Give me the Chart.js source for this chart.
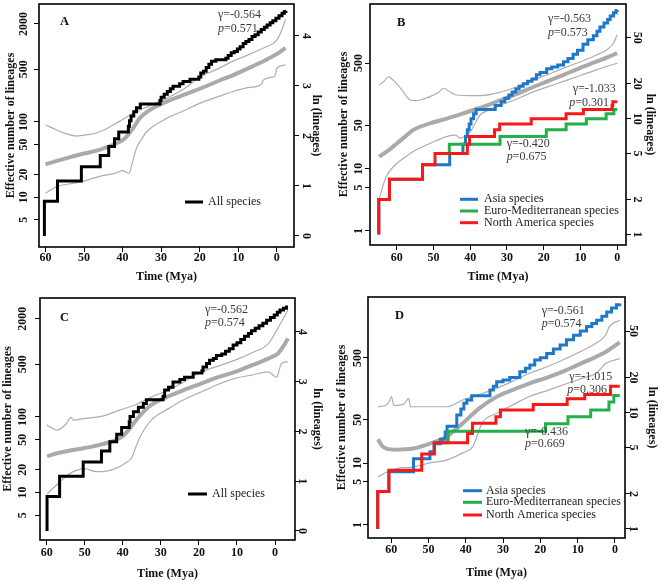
<!DOCTYPE html>
<html><head><meta charset="utf-8">
<script src="https://cdn.jsdelivr.net/npm/chart.js@4/dist/chart.umd.min.js"></script>
<style>
html,body{margin:0;padding:0;background:#fff;}
#wrap{position:relative;width:660px;height:582px;background:#fff;}
canvas{position:absolute;}
</style></head><body>
<div id="wrap">
<canvas id="cA" width="330" height="290" style="left:0;top:0"></canvas>
<canvas id="cB" width="330" height="290" style="left:330px;top:0"></canvas>
<canvas id="cC" width="330" height="292" style="left:0;top:290px"></canvas>
<canvas id="cD" width="330" height="292" style="left:330px;top:290px"></canvas>
</div>
<script>
// ---------- tick labels ----------
const timeTicks = [60, 50, 40, 30, 20, 10, 0];
const lnTicks = [0, 1, 2, 3, 4];                 // right axis of A and C: ln(lineages)
const lineageTicks = [1, 2, 5, 10, 20, 50];       // right axis of B and D
const effTicksAC = [5, 10, 20, 50, 100, 500, 2000];
const effTicksBD = [1, 5, 10, 50, 500];

// ---------- panel A : [time (Mya), lineages] ----------
const A_all = [[60.3,1],[60.3,2],[56.9,3],[50.7,4],[45.8,5],[43.6,6],[42.1,7],[41.0,8],[38.5,9],[38.2,10],[37.8,11],[37.1,12],[36.4,13],[35.4,14],[30.3,15],[30.0,16],[29.2,17],[28.4,18],[27.6,19],[26.9,20],[25.2,21],[24.3,22],[22.5,23],[20.2,24],[19.7,26],[19.0,27],[18.3,29],[17.6,31],[16.9,33],[15.8,34],[13.2,35],[12.6,37],[11.8,39],[11.0,40],[10.2,42],[9.5,44],[8.7,47],[8.0,49],[7.2,51],[6.4,54],[5.6,56],[4.8,59],[4.0,62],[3.2,65],[2.5,68],[1.7,71],[1.0,74],[0.2,78],[-0.6,82],[-1.4,86],[-2.0,89],[-2.4,90]];
const A_mean = [[60,4.2],[55,4.7],[50,5.2],[46,5.6],[42,6.3],[39.5,7.0],[37.3,8.6],[35.6,10.5],[33,12.4],[28.6,14.7],[24,16.9],[20,19],[15,22.3],[11.3,25],[7,29],[2.7,34],[0,38],[-2.3,43]];
const A_upper = [[60,9.2],[58,8.6],[55,7.8],[52,7.4],[49,7.6],[46,8],[41,9.8],[37.3,11.6],[33,13.5],[28.6,15.7],[24,19],[20,24],[15.6,28],[11.3,33],[7,38],[2.7,44],[0,50],[-1.2,60],[-2.3,76]];
const A_lower = [[60,2.35],[57,2.7],[54.6,2.8],[50,3.0],[46,3.3],[42,3.5],[40,3.7],[38.3,3.5],[37.5,4.3],[36.4,5.8],[35,7],[33.8,8],[28.6,10.5],[24,12.3],[20,14.2],[15,16.3],[11.3,18],[7,19.5],[3.8,21],[3.5,22.6],[1,24],[0.3,25],[0,28.5],[-2.3,30.6]];

// ---------- panel C ----------
const C_all = [[59.9,1],[59.9,2],[56.6,3],[50.4,4],[45.6,5],[43.4,6],[41.6,7],[40.3,8],[38.3,9],[38.1,10],[37.2,11],[35.9,12],[34.6,13],[33.8,14],[29.4,15],[29.0,17],[28.0,18],[26.8,20],[25.0,21],[23.8,22],[21.5,24],[19.2,25],[18.9,27],[18.0,29],[17.2,31],[16.2,32],[15.4,34],[14.0,35],[13.0,37],[12.0,39],[11.0,42],[10.0,44],[9.0,47],[8.0,50],[7.0,53],[6.2,56],[5.2,59],[4.2,62],[3.2,65],[2.2,69],[1.2,73],[0.2,77],[-0.6,81],[-1.3,85],[-2.2,88],[-3.0,90],[-3.4,90]];
const C_mean = [[59.9,4.5],[57,4.8],[54.4,5],[50,5.3],[45.6,5.7],[40.4,6.6],[38.5,7.6],[36.8,9],[34.5,11],[32.5,12.6],[28,15],[24,17],[19.3,19.4],[15,22],[10.5,24.5],[6,28],[1.8,32],[-0.8,35.5],[-2,40],[-3.4,48]];
const C_upper = [[59.9,8.4],[58.5,7.9],[57.3,7.6],[55,8.5],[53.6,9.8],[53,9.3],[50,9.6],[45.6,10],[41,11.3],[36.8,12.6],[32,15],[28,17],[24,20],[19.3,24.5],[15,27.5],[10.5,31],[6,36],[1.8,43],[-0.5,57],[-3.4,85]];
const C_lower = [[59.9,2.1],[57,2.6],[54.4,3.1],[52,3.4],[50,3.5],[47,3.3],[45.6,3.3],[42,3.5],[39.4,3.9],[37.6,4.4],[36.5,5.5],[35,7.1],[32.5,9.3],[28,11.7],[24,14],[19.3,16.4],[15,19],[10.5,21.5],[6,23],[1.8,24.5],[-0.4,22],[-1.7,29],[-3.4,30]];

// ---------- panel B ----------
const B_asia = [[64.9,1],[64.9,2],[62,3],[53,4],[45.6,5],[42.0,6],[41.3,7],[40.8,8],[40.3,9],[39.8,10],[39.1,11],[38.4,12],[33.2,13],[31.6,14],[30.6,15],[29.5,16],[28.6,17],[27.6,18],[26.7,19],[25.6,20],[24.4,21],[23.2,22],[22.0,24],[21.0,25],[19.2,27],[17.8,28],[16.2,29],[14.6,31],[13.4,33],[12.0,36],[10.8,39],[9.3,44],[8.0,48],[6.5,52],[5.5,57],[4.7,62],[3.6,67],[2.6,72],[1.9,77],[1.0,82],[0.3,86],[0,87]];
const B_euro = [[49.6,5],[45.7,5],[45.7,6],[31.9,7],[19.3,8],[13.9,9],[8.4,10],[3.0,11],[0.9,12],[0,12]];
const B_namer = [[64.9,1],[64.9,2],[62.0,3],[53.0,4],[49.6,5],[40.8,6],[40.2,7],[33.4,8],[32.0,9],[23.4,10],[13.9,11],[9.2,12],[1.4,13],[1.2,14],[0,14]];
const B_mean = [[64.8,4.7],[62,5.4],[60,6.1],[57.5,7.1],[55.5,8],[51,9.1],[46,10.1],[41.9,11.1],[37,12.5],[32.8,14],[28,16],[23.7,18.3],[19,21],[14.6,23.9],[10,27.5],[5.5,31.2],[2.5,34],[0,36.8]];
const B_upper = [[64.8,19.5],[63.5,21],[62.3,23],[61,21.5],[60,20],[58.6,17.7],[57.5,15.8],[56.4,14.5],[55,14.3],[53.6,14.5],[51,15.5],[48.5,17],[47.3,18.3],[45.5,17],[43.7,16],[40,15.8],[37.3,15.8],[32.8,16.6],[28,18.5],[23.7,21],[19,24],[14.6,27.3],[10,31],[5.5,35.6],[2.5,40],[1,45],[0,53]];
const B_lower = [[64.8,2.0],[63.5,2.8],[62.3,3.4],[60,4.1],[57.5,4.7],[55.5,5.2],[51,6.1],[46.5,7],[44,7.2],[42.8,6.8],[41.5,7.0],[40,7.7],[38.5,9.3],[37.3,10.8],[35,11.8],[32.8,12.7],[28,14.5],[23.7,16.6],[19,18.8],[14.6,21],[10,23.6],[5.5,26.5],[2.5,28.5],[0,30]];

// ---------- panel D ----------
const D_asia = [[63.6,1],[63.6,2.1],[60.6,3.1],[54.0,4.0],[49.6,4.6],[48.5,5.4],[46.8,5.9],[45.5,6.8],[45.0,7.6],[42.4,9.5],[41.3,10.7],[40.5,12],[39.7,12.8],[38.4,13.9],[33.5,15.6],[32.6,16.8],[31.7,18.4],[30.0,19],[28.2,20],[25.5,22.4],[24.0,24],[22.8,25.6],[21.5,28.2],[20.0,29.5],[18.3,32.1],[16.5,35],[14.7,38],[13.0,42],[11.1,46],[9.3,50],[7.6,54.6],[6.2,58],[4.9,62],[3.5,67],[2.2,73],[0.9,79],[-0.4,84],[-1.3,86]];
const D_euro = [[48.4,5.5],[44.7,5.5],[44.7,6.9],[18.6,8],[12.6,9.2],[6.5,10.5],[1.6,12.3],[0.3,14],[-1.3,14]];
const D_namer = [[63.6,1],[63.6,2.1],[60.6,3.2],[51.8,4.4],[48.4,5.5],[39.5,6.6],[38.2,8.1],[31.9,9.2],[30.7,10.5],[21.9,11.7],[12.8,13.1],[8.1,14.3],[1.2,16.8],[-1.3,16.8]];
const D_mean = [[63.5,5.9],[62.5,5.2],[61.3,4.9],[58.6,4.8],[54.1,4.9],[49.6,5.4],[45.2,6.2],[40.8,8.1],[36.3,10.9],[31.8,13.6],[27,15.8],[22.9,17.8],[18,20],[14,22.4],[9.5,26],[5.1,30],[2.5,33],[-0.3,38],[-1.3,40]];
const D_upper = [[63.5,11.2],[61.3,11.6],[60.5,12.5],[59.9,13.7],[59.3,11.5],[56.6,11.8],[55.3,13.2],[54.8,11.2],[49.6,11.2],[45.2,11.2],[40.8,12.8],[36,14.4],[31.8,16.1],[27,18.8],[22.9,21.7],[18,24.8],[14,28.2],[9.5,33],[5.1,39.2],[2.5,46],[1.5,54.6],[-1.3,62]];
const D_lower = [[63.5,2.8],[61,3.1],[58.6,3.3],[54.1,3.4],[49.6,3.7],[45.2,3.9],[40.8,4.5],[38.1,5.1],[36.8,6.5],[35.4,8.3],[31.8,9.8],[27,11.8],[22.9,13.7],[18,15.5],[14,17.2],[9.5,19.3],[5.1,21.7],[2.4,26.4],[-1.3,29]];

// ---------- statistics text ----------
const statsA = [['-0.564','0.571']];
const statsB = [['-0.563','0.573'],['-1.033','0.301'],['-0.420','0.675']];
const statsC = [['-0.562','0.574']];
const statsD = [['-0.561','0.574'],['-1.015','0.306'],['-0.436','0.669']];
const regionNames = ['Asia species','Euro-Mediterranean species','North America species'];

// ---------- styles ----------
const SERIF = '"Liberation Serif","Times New Roman",serif';
const COL = {black:'#000000', asia:'#1f77c8', euro:'#22b04a', namer:'#f51a1a', mean:'#aaaaaa', ci:'#aeaeae'};

function stepDS(pts, color, w) {
  return {data: pts.map(p => ({x:p[0], y:p[1]})), borderColor: color, borderWidth: w,
    stepped: 'before', pointRadius: 0, fill: false, borderJoinStyle: 'miter', borderCapStyle: 'butt'};
}
function curveDS(pts, color, w) {
  return {data: pts.map(p => ({x:p[0], y:p[1]})), borderColor: color, borderWidth: w,
    cubicInterpolationMode: 'monotone', pointRadius: 0, fill: false, borderJoinStyle: 'round'};
}

const deco = {
  id: 'deco',
  afterDatasetsDraw(chart) {
    const c = chart.options.plugins.deco;
    const {ctx, chartArea: a} = chart;
    ctx.save();
    ctx.strokeStyle = '#000'; ctx.lineWidth = 1.6;
    ctx.strokeRect(a.left, a.top, a.right - a.left, a.bottom - a.top);
    // panel letter
    ctx.fillStyle = '#111'; ctx.textBaseline = 'middle'; ctx.textAlign = 'left';
    ctx.font = 'bold 12.5px ' + SERIF;
    ctx.fillText(c.letter, a.left + c.letterPos[0], a.top + c.letterPos[1]);
    // stats
    ctx.fillStyle = '#3a3a3a';
    c.stats.forEach((s, i) => {
      const pos = c.statPos[i];
      ctx.font = '12px ' + SERIF;
      ctx.fillText('\u03b3=' + s[0], a.left + pos[0], a.top + pos[1]);
      const px = a.left + (pos[3] !== undefined ? pos[3] : pos[0]);
      const py = a.top + pos[2];
      ctx.font = 'italic 12px ' + SERIF;
      ctx.fillText('p', px, py);
      const w = ctx.measureText('p').width;
      ctx.font = '12px ' + SERIF;
      ctx.fillText('=' + s[1], px + w, py);
    });
    // legend
    const L = c.legend;
    L.rows.forEach((r, i) => {
      const y = a.top + L.y[i];
      ctx.strokeStyle = r[0]; ctx.lineWidth = 3;
      ctx.beginPath(); ctx.moveTo(a.left + L.x1, y); ctx.lineTo(a.left + L.x2, y); ctx.stroke();
      ctx.fillStyle = '#1a1a1a'; ctx.font = '12px ' + SERIF;
      ctx.fillText(r[1], a.left + L.tx, y);
    });
    ctx.restore();
  }
};

function makePanel(id, P) {
  const tickFont = {family: SERIF, size: 12, weight: 'bold'};
  const titleFont = {family: SERIF, size: 12, weight: 'bold'};
  const gridCfg = {drawOnChartArea: false, drawTicks: true, tickLength: 5, tickColor: '#000', tickWidth: 1};
  const noPad = s => { s.paddingTop = 0; s.paddingBottom = 0; s.paddingLeft = 0; s.paddingRight = 0; };
  new Chart(document.getElementById(id), {
    type: 'line',
    data: {datasets: P.datasets},
    options: {
      responsive: false, animation: false, events: [],
      layout: {padding: {top: P.top, left: 0, right: 0, bottom: 0}},
      plugins: {legend: {display: false}, tooltip: {enabled: false}, deco: P.deco},
      scales: {
        x: {type: 'linear', reverse: true, min: P.xMin, max: P.xMax, bounds: 'data',
          afterBuildTicks: s => { s.ticks = timeTicks.map(v => ({value: v})); },
          ticks: {font: tickFont, color: '#111', padding: P.xPad, maxRotation: 0, autoSkip: false,
            callback: v => String(v)},
          grid: gridCfg, border: {display: false},
          title: {display: true, text: 'Time (Mya)', font: titleFont, color: '#111', padding: {top: 0, bottom: P.xTitlePad}},
          afterFit: s => { s.height = P.xH; noPad(s); }},
        y: {type: 'logarithmic', position: 'right', min: P.yMin, max: P.yMax, bounds: 'data',
          afterBuildTicks: s => { s.ticks = P.rTicks.map(v => ({value: v})); },
          ticks: {font: tickFont, color: '#111', padding: P.rPad, minRotation: -90, maxRotation: -90,
            crossAlign: 'center', autoSkip: false, callback: (v, i) => P.rLabels[i]},
          grid: gridCfg, border: {display: false},
          title: {display: true, text: 'ln (lineages)', font: titleFont, color: '#111', padding: {top: P.rTitlePad, bottom: 0}},
          afterFit: s => { s.width = P.rW; noPad(s); }},
        yl: {type: 'logarithmic', position: 'left', min: P.lMin, max: P.lMax, bounds: 'data',
          afterBuildTicks: s => { s.ticks = P.lTicks.map(v => ({value: v})); },
          ticks: {font: tickFont, color: '#111', padding: P.lPad, minRotation: 90, maxRotation: 90,
            crossAlign: 'center', autoSkip: false, callback: v => String(v)},
          grid: gridCfg, border: {display: false},
          title: {display: true, text: 'Effective number of lineages', font: titleFont, color: '#111', padding: {top: P.lTitlePad, bottom: 0}},
          afterFit: s => { s.width = P.lW; noPad(s); }}
      }
    },
    plugins: [deco]
  });
}

const grayDS = (m, u, l) => [curveDS(m, COL.mean, 4), curveDS(u, COL.ci, 1.2), curveDS(l, COL.ci, 1.2)];
const regionDS = (na, eu, as) => [stepDS(na, COL.namer, 3), stepDS(eu, COL.euro, 3), stepDS(as, COL.asia, 3)];
const regionLegend = (x1, x2, tx, ys) => ({x1, x2, tx, y: ys,
  rows: [[COL.asia, regionNames[0]], [COL.euro, regionNames[1]], [COL.namer, regionNames[2]]]});

makePanel('cA', {
  top: 4, lW: 39, rW: 36, xH: 43, xMin: -4.5, xMax: 61.7,
  yMin: 0.8025, yMax: 103.5, lMin: 2.18, lMax: 3680,
  rTicks: lnTicks.map(k => Math.exp(k)), rLabels: lnTicks.map(String), lTicks: effTicksAC,
  xPad: -1, xTitlePad: 6, rPad: 4, rTitlePad: 7, lPad: -2, lTitlePad: 4,
  datasets: [stepDS(A_all, COL.black, 3)].concat(grayDS(A_mean, A_upper, A_lower)),
  deco: {letter: 'A', letterPos: [21, 18], stats: statsA, statPos: [[179, 10.7, 25]],
    legend: {x1: 146, x2: 164, tx: 169, y: [198], rows: [[COL.black, 'All species']]}}
});

makePanel('cB', {
  top: 4, lW: 40, rW: 34, xH: 45, xMin: -2.4, xMax: 67.3,
  yMin: 0.81, yMax: 97.8, lMin: 0.595, lMax: 4460,
  rTicks: lineageTicks, rLabels: lineageTicks.map(String), lTicks: effTicksBD,
  xPad: 1, xTitlePad: 6, rPad: 0, rTitlePad: 3, lPad: -3, lTitlePad: 7,
  datasets: regionDS(B_namer, B_euro, B_asia).concat(grayDS(B_mean, B_upper, B_lower)),
  deco: {letter: 'B', letterPos: [27, 18.5], stats: statsB,
    statPos: [[178, 15.3, 29.3], [202.7, 85.3, 99.3, 199.3], [136.7, 140.3, 152.7]],
    legend: regionLegend(90, 108, 114, [195.3, 207, 218.7])}
});

makePanel('cC', {
  top: 8, lW: 40, rW: 35, xH: 42, xMin: -5.25, xMax: 61.75,
  yMin: 0.8345, yMax: 108.1, lMin: 2.34, lMax: 3780,
  rTicks: lnTicks.map(k => Math.exp(k)), rLabels: lnTicks.map(String), lTicks: effTicksAC,
  xPad: 1, xTitlePad: 1, rPad: -1, rTitlePad: 6, lPad: 0.5, lTitlePad: 0.5,
  datasets: [stepDS(C_all, COL.black, 3)].concat(grayDS(C_mean, C_upper, C_lower)),
  deco: {letter: 'C', letterPos: [20, 19.5], stats: statsC, statPos: [[165, 12, 24.7]],
    legend: {x1: 148, x2: 167, tx: 172, y: [196], rows: [[COL.black, 'All species']]}}
});

makePanel('cD', {
  top: 7, lW: 38, rW: 35, xH: 44, xMin: -2.7, xMax: 66.2,
  yMin: 0.837, yMax: 98, lMin: 0.615, lMax: 4830,
  rTicks: lineageTicks, rLabels: lineageTicks.map(String), lTicks: effTicksBD,
  xPad: 0, xTitlePad: 2, rPad: -3, rTitlePad: 1, lPad: -3.5, lTitlePad: 5,
  datasets: regionDS(D_namer, D_euro, D_asia).concat(grayDS(D_mean, D_upper, D_lower)),
  deco: {letter: 'D', letterPos: [27, 19], stats: statsD,
    statPos: [[173.7, 13.7, 27.3], [201.3, 80.3, 93, 199.3], [157, 134.7, 147.3]],
    legend: regionLegend(95, 114, 118, [193.7, 205.3, 218])}
});
</script>
</body></html>
